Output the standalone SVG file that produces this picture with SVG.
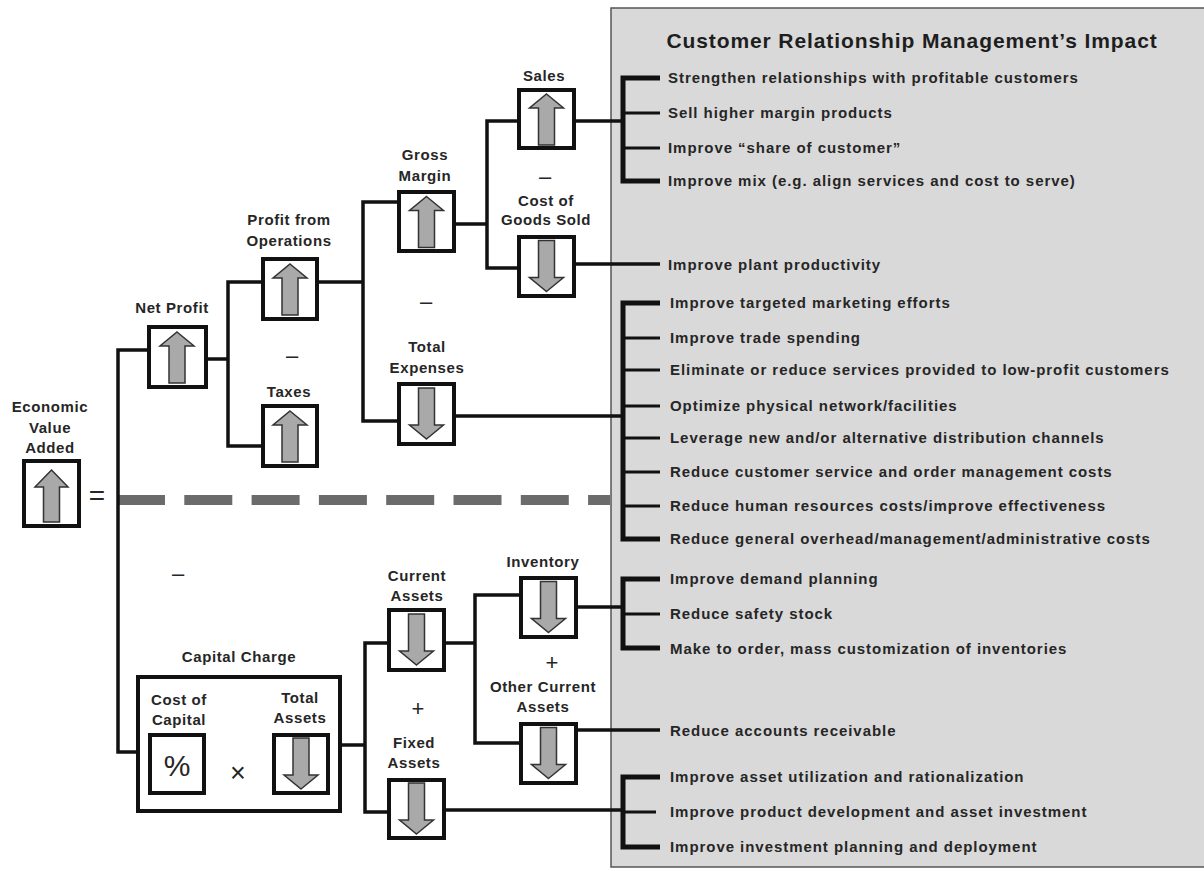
<svg xmlns="http://www.w3.org/2000/svg" width="1204" height="871" viewBox="0 0 1204 871">
<style>
.bx{fill:#fff;stroke:#111;stroke-width:4}
.ar{fill:#a9a9a9;stroke:#333;stroke-width:1.5;stroke-linejoin:miter}
.ln{fill:none;stroke:#111;stroke-width:3.5}
.br{fill:none;stroke:#111;stroke-width:5}
.bm{fill:none;stroke:#111;stroke-width:3}
.lb{font-family:"Liberation Sans",Arial,sans-serif;font-weight:bold;font-size:15px;letter-spacing:0.6px;fill:#262626;text-anchor:middle}
.it{font-family:"Liberation Sans",Arial,sans-serif;font-weight:bold;font-size:15px;letter-spacing:0.95px;fill:#262626}
.op{font-family:"Liberation Sans",Arial,sans-serif;font-size:22px;fill:#262626;text-anchor:middle}
.ti{font-family:"Liberation Sans",Arial,sans-serif;font-weight:bold;font-size:21px;letter-spacing:0.9px;fill:#1e1e1e;text-anchor:middle}
</style>
<defs>
<path id="up" class="ar" d="M0,-25 L17,-11 L8,-11 L8,26 L-8,26 L-8,-11 L-17,-11 Z"/>
<path id="dn" class="ar" d="M0,25 L17,11 L8,11 L8,-26 L-8,-26 L-8,11 L-17,11 Z"/>
</defs>
<rect width="1204" height="871" fill="#fff"/>
<g id="panel">
<rect x="611" y="8" width="620" height="859" fill="#d9d9d9" stroke="#555" stroke-width="1.5"/>
<text class="ti" x="912" y="48">Customer Relationship Management’s Impact</text>
</g>
<g id="divider">
<line x1="117" y1="500" x2="610" y2="500" stroke="#6b6b6b" stroke-width="10" stroke-dasharray="48 19.3"/>
</g>
<g id="connectors">
<path class="ln" d="M147,350 H118 V752 H136"/>
<path class="ln" d="M208,359 H228"/>
<path class="ln" d="M261,282 H228 V446 H261"/>
<path class="ln" d="M319,282 H363"/>
<path class="ln" d="M397,202 H363 V421 H397"/>
<path class="ln" d="M456,224 H487"/>
<path class="ln" d="M517,121 H487 V268 H517"/>
<path class="ln" d="M576,121 H623"/>
<path class="ln" d="M576,264 H660"/>
<path class="ln" d="M456,416 H623"/>
<path class="ln" d="M342,745 H365" stroke="#444"/>
<path class="ln" d="M387,643 H365 V812 H387"/>
<path class="ln" d="M446,643 H475"/>
<path class="ln" d="M519,595 H475 V743 H519"/>
<path class="ln" d="M578,607 H623"/>
<path class="ln" d="M578,730 H660"/>
<path class="ln" d="M446,810 H623"/>
<path class="br" d="M660,78 H623 V181 H660"/>
<path class="bm" d="M623,113 H660 M623,148 H660"/>
<path class="br" d="M660,303 H623 V539 H660"/>
<path class="bm" d="M623,338 H660 M623,370 H660 M623,406 H660 M623,438 H660 M623,472 H660 M623,506 H660"/>
<path class="br" d="M660,579 H623 V648 H660"/>
<path class="bm" d="M623,614 H660"/>
<path class="br" d="M660,777 H623 V847 H660"/>
<path class="bm" d="M623,812 H656"/>
</g>
<g id="eva">
<rect class="bx" x="24" y="461" width="55" height="65"/>
<path class="ar" d="M51.5,470 L68,487 L59.5,487 L59.5,522 L43.5,522 L43.5,487 L35,487 Z"/>
<text class="lb" x="50" y="412">Economic</text>
<text class="lb" x="50" y="433">Value</text>
<text class="lb" x="50" y="453">Added</text>
<text class="op" x="97" y="505" style="font-size:28px">=</text>
</g>
<g id="net-profit">
<rect class="bx" x="149" y="327" width="57" height="60"/>
<use href="#up" x="177" y="357"/>
<text class="lb" x="172" y="313">Net Profit</text>
</g>
<g id="profit-ops">
<rect class="bx" x="263" y="259" width="54" height="60"/>
<use href="#up" x="290" y="289"/>
<text class="lb" x="289" y="225">Profit from</text>
<text class="lb" x="289" y="246">Operations</text>
</g>
<g id="taxes">
<rect class="bx" x="263" y="406" width="54" height="60"/>
<use href="#up" x="290" y="436"/>
<text class="op" x="292" y="363">–</text>
<text class="lb" x="289" y="397">Taxes</text>
</g>
<g id="gross-margin">
<rect class="bx" x="399" y="192" width="55" height="59"/>
<use href="#up" x="426.5" y="221.5"/>
<text class="lb" x="425" y="160">Gross</text>
<text class="lb" x="425" y="181">Margin</text>
</g>
<g id="total-expenses">
<rect class="bx" x="399" y="384" width="55" height="60"/>
<use href="#dn" x="426.5" y="414"/>
<text class="op" x="426" y="309">–</text>
<text class="lb" x="427" y="352">Total</text>
<text class="lb" x="427" y="373">Expenses</text>
</g>
<g id="sales">
<rect class="bx" x="519" y="90" width="55" height="58"/>
<use href="#up" x="546.5" y="119"/>
<text class="lb" x="544" y="81">Sales</text>
</g>
<g id="cogs">
<rect class="bx" x="519" y="237" width="55" height="59"/>
<use href="#dn" x="546.5" y="266.5"/>
<text class="op" x="545" y="184">–</text>
<text class="lb" x="546" y="206">Cost of</text>
<text class="lb" x="546" y="225">Goods Sold</text>
</g>
<g id="capital-charge">
<rect class="bx" x="138" y="677" width="202" height="134"/>
<text class="lb" x="239" y="662">Capital Charge</text>
<rect class="bx" x="150" y="735" width="54" height="58"/>
<text class="op" x="177" y="776" style="font-size:30px">%</text>
<text class="lb" x="179" y="705">Cost of</text>
<text class="lb" x="179" y="725">Capital</text>
<text class="op" x="238" y="782" style="font-size:27px">×</text>
<rect class="bx" x="274" y="735" width="54" height="58"/>
<use href="#dn" x="301" y="764"/>
<text class="lb" x="300" y="703">Total</text>
<text class="lb" x="300" y="723">Assets</text>
<text class="op" x="178" y="581">–</text>
</g>
<g id="current-assets">
<rect class="bx" x="389" y="610" width="55" height="60"/>
<use href="#dn" x="416.5" y="640"/>
<text class="lb" x="417" y="581">Current</text>
<text class="lb" x="417" y="601">Assets</text>
</g>
<g id="fixed-assets">
<rect class="bx" x="389" y="780" width="55" height="58"/>
<use href="#dn" x="416.5" y="809"/>
<text class="op" x="418" y="716">+</text>
<text class="lb" x="414" y="748">Fixed</text>
<text class="lb" x="414" y="768">Assets</text>
</g>
<g id="inventory">
<rect class="bx" x="521" y="578" width="55" height="59"/>
<use href="#dn" x="548.5" y="607.5"/>
<text class="lb" x="543" y="567">Inventory</text>
</g>
<g id="other-current-assets">
<rect class="bx" x="521" y="724" width="55" height="59"/>
<use href="#dn" x="548.5" y="753.5"/>
<text class="op" x="552" y="670">+</text>
<text class="lb" x="543" y="692">Other Current</text>
<text class="lb" x="543" y="712">Assets</text>
</g>
<g id="impacts">
<text class="it" x="668" y="83">Strengthen relationships with profitable customers</text>
<text class="it" x="668" y="118">Sell higher margin products</text>
<text class="it" x="668" y="153">Improve “share of customer”</text>
<text class="it" x="668" y="186">Improve mix (e.g. align services and cost to serve)</text>
<text class="it" x="668" y="270">Improve plant productivity</text>
<text class="it" x="670" y="308">Improve targeted marketing efforts</text>
<text class="it" x="670" y="343">Improve trade spending</text>
<text class="it" x="670" y="375">Eliminate or reduce services provided to low-profit customers</text>
<text class="it" x="670" y="411">Optimize physical network/facilities</text>
<text class="it" x="670" y="443">Leverage new and/or alternative distribution channels</text>
<text class="it" x="670" y="477">Reduce customer service and order management costs</text>
<text class="it" x="670" y="511">Reduce human resources costs/improve effectiveness</text>
<text class="it" x="670" y="544">Reduce general overhead/management/administrative costs</text>
<text class="it" x="670" y="584">Improve demand planning</text>
<text class="it" x="670" y="619">Reduce safety stock</text>
<text class="it" x="670" y="654">Make to order, mass customization of inventories</text>
<text class="it" x="670" y="736">Reduce accounts receivable</text>
<text class="it" x="670" y="782">Improve asset utilization and rationalization</text>
<text class="it" x="670" y="817">Improve product development and asset investment</text>
<text class="it" x="670" y="852">Improve investment planning and deployment</text>
</g>
</svg>
